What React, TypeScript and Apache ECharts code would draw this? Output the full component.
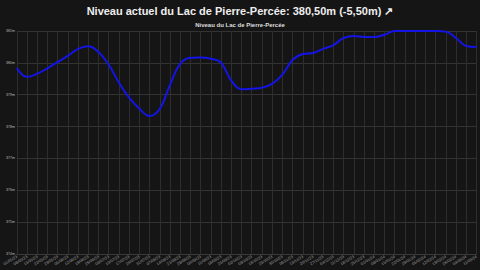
import React, { useEffect, useRef } from "react";
import * as echarts from "echarts";

const dates: string[] = [
  "01/05/23", "08/05/23", "15/05/23", "22/05/23", "29/05/23", "05/06/23", "12/06/23", "19/06/23",
  "26/06/23", "03/07/23", "10/07/23", "17/07/23", "24/07/23", "31/07/23", "07/08/23", "14/08/23",
  "21/08/23", "28/08/23", "04/09/23", "11/09/23", "18/09/23", "25/09/23", "02/10/23", "09/10/23",
  "16/10/23", "23/10/23", "30/10/23", "06/11/23", "13/11/23", "20/11/23", "27/11/23", "04/12/23",
  "11/12/23", "18/12/23", "25/12/23", "01/01/24", "08/01/24", "15/01/24", "22/01/24", "29/01/24",
  "05/02/24", "12/02/24", "19/02/24", "26/02/24", "04/03/24", "11/03/24",
];

const levels: number[] = [
  379.84, 379.56, 379.66, 379.83, 380.03, 380.22, 380.44, 380.52,
  380.34, 379.94, 379.38, 378.91, 378.56, 378.33, 378.56, 379.31,
  379.97, 380.16, 380.17, 380.13, 380.0, 379.44, 379.17, 379.19,
  379.22, 379.34, 379.63, 380.09, 380.28, 380.31, 380.44, 380.56,
  380.78, 380.84, 380.81, 380.81, 380.88, 381.0, 381.0, 381.0,
  381.0, 381.0, 380.98, 380.78, 380.53, 380.5,
];

const mainTitle = "Niveau actuel du Lac de Pierre-Percée: 380,50m (-5,50m) ↗";
const chartTitle = "Niveau du Lac de Pierre-Percée";

export default function App() {
  const ref = useRef<HTMLDivElement>(null);
  useEffect(() => {
    if (!ref.current) return;
    const chart = echarts.init(ref.current, undefined, { renderer: "svg" });
    chart.setOption({
      animation: false,
      backgroundColor: "#151515",
      title: [
        {
          text: mainTitle,
          left: "center",
          top: 5,
          padding: 0,
          textStyle: { color: "#eeeeee", fontSize: 11, fontWeight: "bold", fontFamily: "Liberation Sans, Arial, sans-serif" },
        },
        {
          text: chartTitle,
          left: "center",
          top: 22,
          padding: 0,
          textStyle: { color: "#dddddd", fontSize: 6, fontWeight: "bold", fontFamily: "Liberation Sans, Arial, sans-serif" },
        },
      ],
      grid: { left: 10, right: 2, top: 31, bottom: 16, containLabel: false },
      xAxis: {
        type: "category",
        data: dates,
        boundaryGap: false,
        axisLine: { lineStyle: { color: "#3a3a3a" } },
        axisTick: { show: false },
        axisLabel: { color: "#9a9a9a", fontSize: 4, rotate: 32, interval: 0, margin: 2 },
        splitLine: { show: true, interval: 0, lineStyle: { color: "#2e2e2e", width: 1 } },
      },
      yAxis: {
        type: "value",
        min: 374,
        max: 381,
        interval: 1,
        axisLine: { show: false },
        axisTick: { show: false },
        axisLabel: { color: "#bbbbbb", fontSize: 3.5, margin: 2, formatter: (v: number) => `${v}m` },
        splitLine: { lineStyle: { color: "#333333", width: 1 } },
      },
      series: [
        {
          type: "line",
          data: levels,
          smooth: 0.4,
          showSymbol: false,
          lineStyle: { color: "#1414e6", width: 2 },
        },
      ],
    });
    return () => chart.dispose();
  }, []);
  return <div ref={ref} style={{ width: 480, height: 270, position: "fixed", left: 0, top: 0 }} />;
}
